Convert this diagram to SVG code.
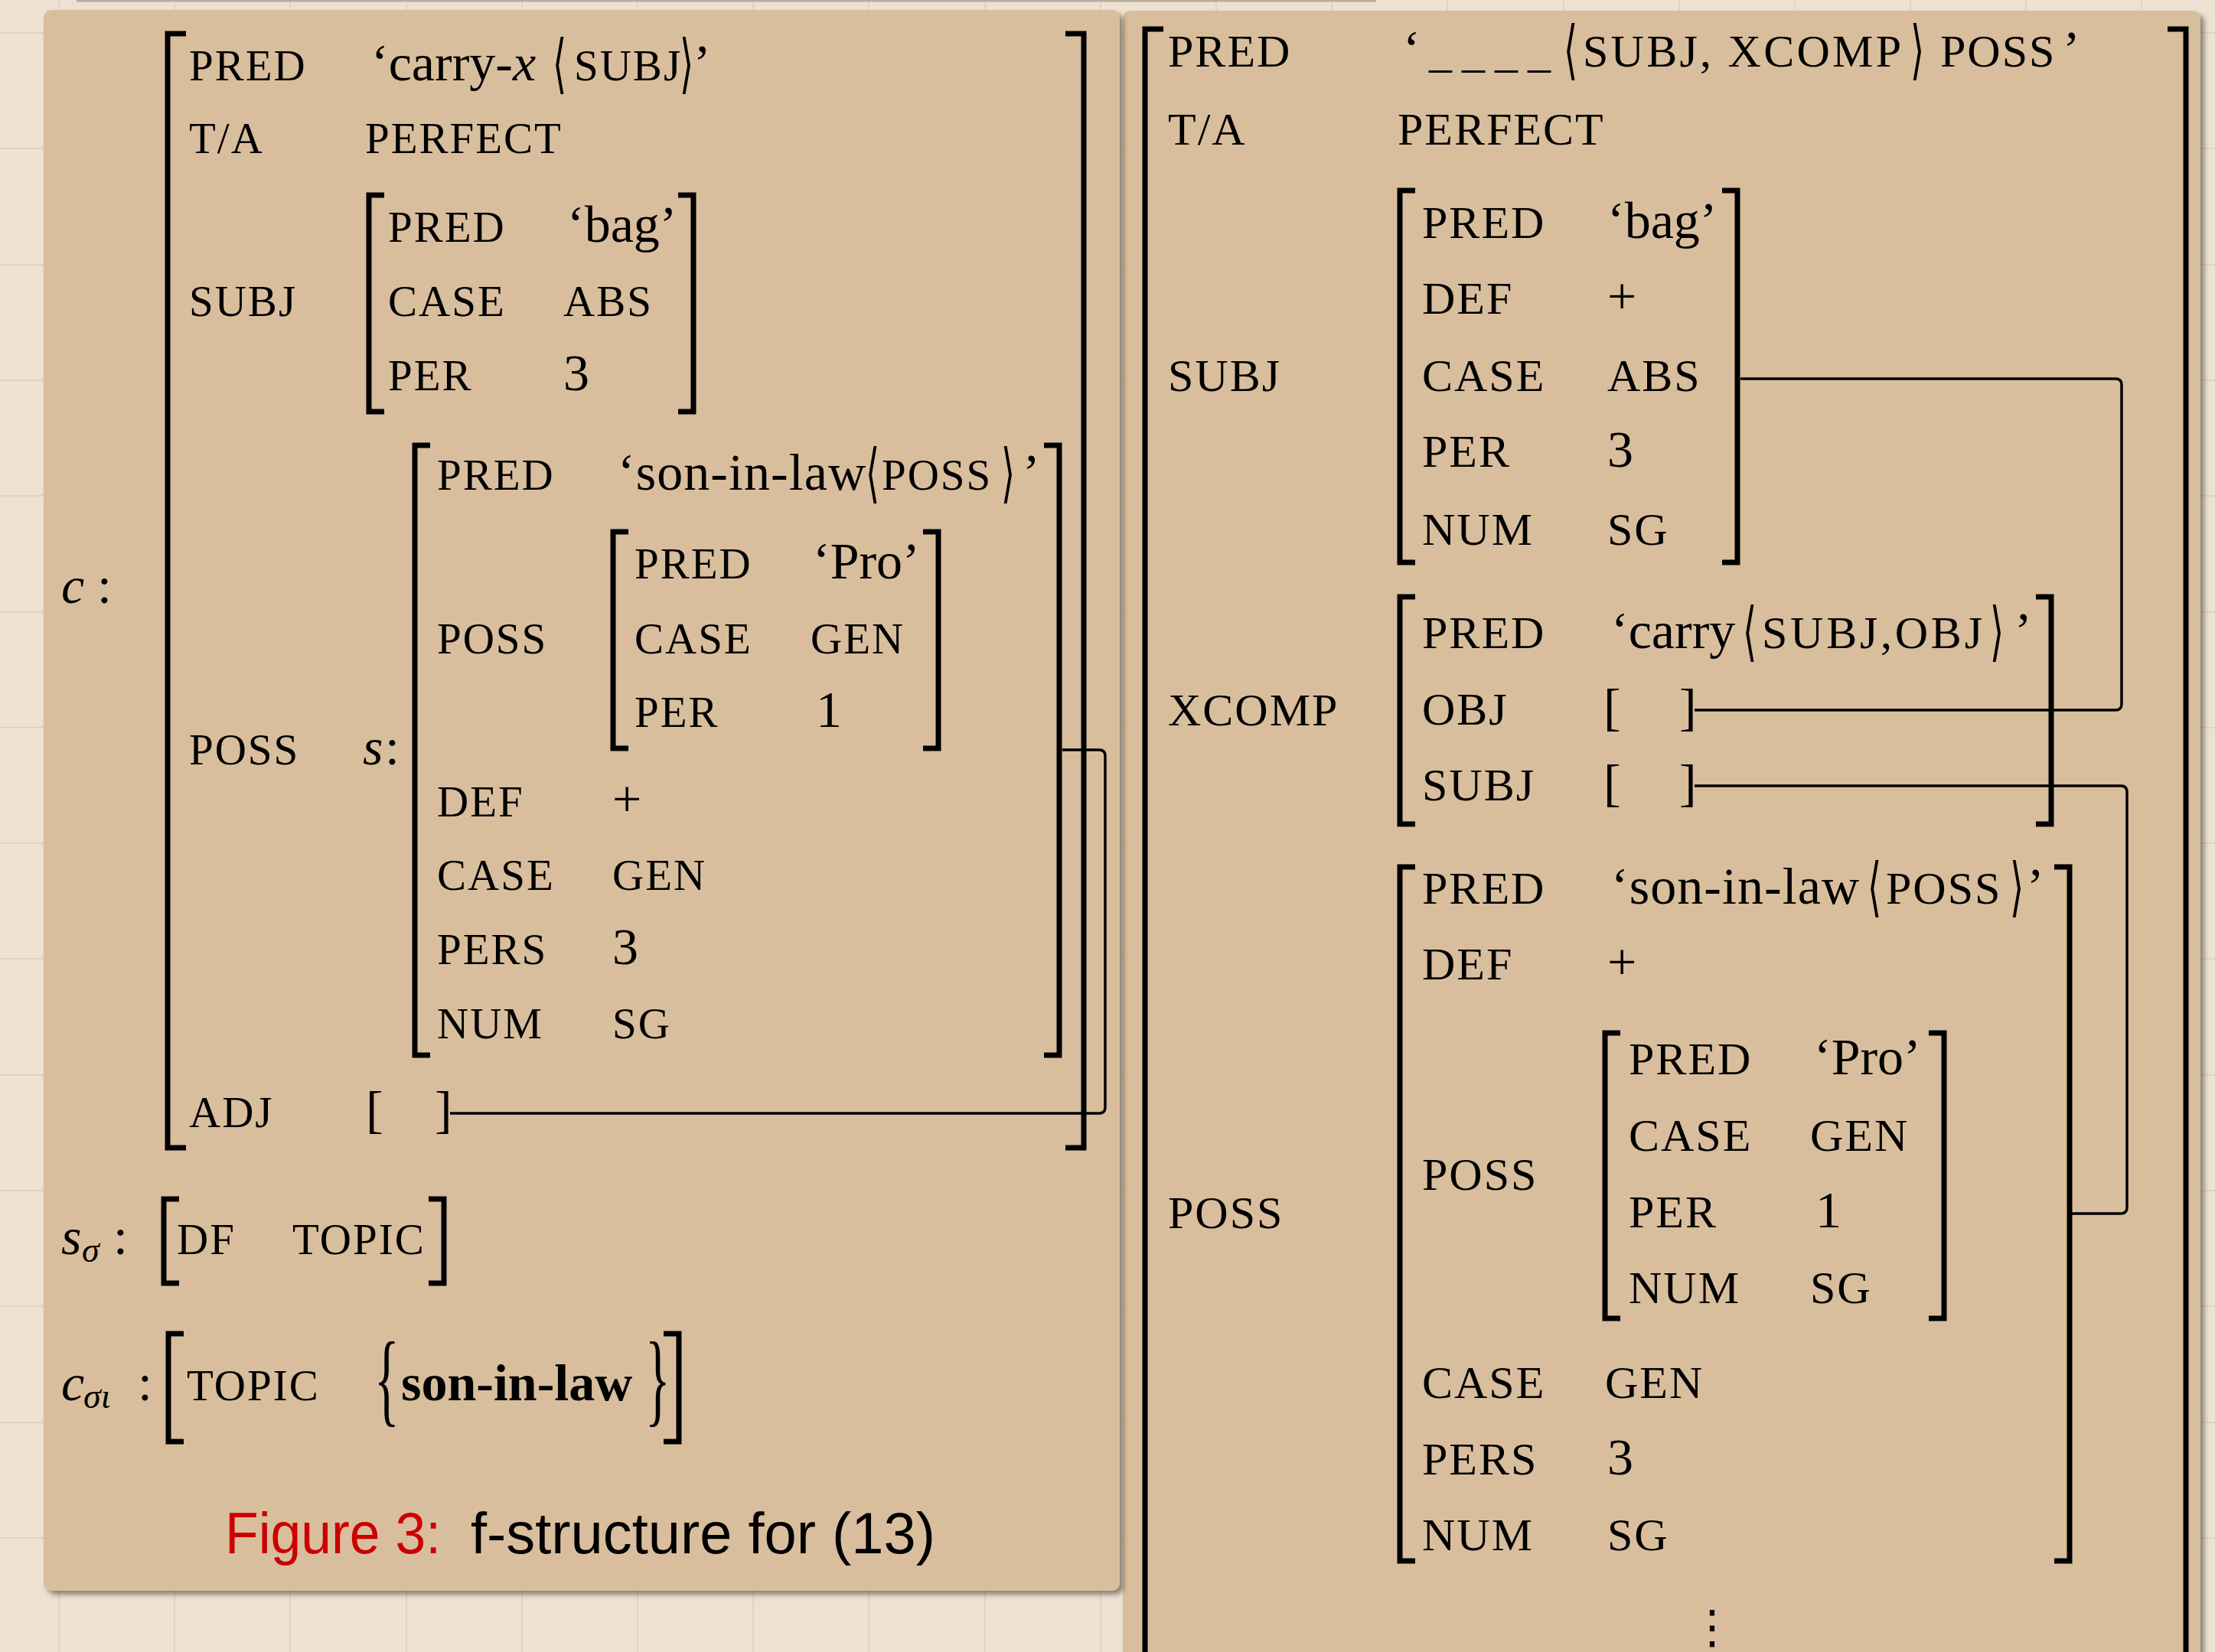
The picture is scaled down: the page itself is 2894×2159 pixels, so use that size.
<svg xmlns="http://www.w3.org/2000/svg" width="2894" height="2159" viewBox="0 0 2894 2159">
<defs>
<filter id="sh" x="-5%" y="-5%" width="110%" height="110%">
<feDropShadow dx="5" dy="5" stdDeviation="3" flood-color="#3c3428" flood-opacity="0.55"/>
</filter>
</defs>
<style>
.bg{fill:#EDE2D2}
.grid{stroke:#E0D2BF;stroke-width:2}
.panel{fill:#D9BE9D}
.br{fill:none;stroke:#000;stroke-width:7;stroke-linejoin:miter;stroke-linecap:butt}
.cn{fill:none;stroke:#000;stroke-width:3.5}
text{fill:#000}
.sc{font-family:'Liberation Serif','DejaVu Serif',serif;font-size:57px;letter-spacing:2px}
.sr{font-family:'Liberation Serif','DejaVu Serif',serif;font-size:60px;letter-spacing:2px}
.rm{font-family:'Liberation Serif','DejaVu Serif',serif;font-size:68px}
.it{font-family:'Liberation Serif','DejaVu Serif',serif;font-style:italic;font-size:68px}
.sub{font-family:'Liberation Serif','DejaVu Serif',serif;font-style:italic;font-size:46px}
.ang{font-family:'DejaVu Serif','DejaVu Sans',serif;font-size:62px;font-weight:normal}
.dots{font-family:'DejaVu Sans','DejaVu Serif',sans-serif;font-size:60px}
.bf{font-family:'Liberation Serif',serif;font-weight:bold;font-size:68px}
.cap{font-family:'Liberation Sans','DejaVu Sans',sans-serif;font-size:76px}
</style>
<rect class="bg" x="0" y="0" width="2894" height="2159"/>
<g id="grid">
<path class="grid" d="M77 0V2159M228 0V2159M379 0V2159M531 0V2159M682 0V2159M833 0V2159M984 0V2159M1135 0V2159M1287 0V2159M1438 0V2159M1589 0V2159M1740 0V2159M1891 0V2159M2043 0V2159M2194 0V2159M2345 0V2159M2496 0V2159M2647 0V2159M2798 0V2159"/>
<path class="grid" d="M0 43H2894M0 194H2894M0 346H2894M0 497H2894M0 648H2894M0 800H2894M0 951H2894M0 1102H2894M0 1253H2894M0 1405H2894M0 1556H2894M0 1707H2894M0 1859H2894M0 2010H2894"/>
</g>
<line x1="100" y1="1" x2="1798" y2="1" stroke="#B8AC9C" stroke-width="3"/>

<rect id="panel-right" class="panel" x="1467" y="14" width="1408" height="2220" rx="10" filter="url(#sh)"/>
<rect id="panel-left" class="panel" x="57" y="13" width="1406" height="2066" rx="10" filter="url(#sh)"/>

<!-- LEFT PANEL -->
<g id="f-c">
<path class="br" d="M243 44H219V1500H243"/>
<path class="br" d="M1392 44H1416V1500H1392"/>
<text class="it" x="80" y="788">c</text><text class="rm" x="127" y="788">:</text>
<text class="sc" x="247" y="105">PRED</text>
<text class="rm" x="485" y="105">‘carry-<tspan class="it">x</tspan></text>
<text class="ang" transform="translate(722 112) scale(0.75 1.36)">⟨</text>
<text class="sc" x="750" y="105">SUBJ</text>
<text class="ang" transform="translate(888 112) scale(0.75 1.36)">⟩</text>
<text class="rm" x="906" y="105">’</text>
<text class="sc" x="247" y="200">T/A</text>
<text class="sc" x="477" y="200">PERFECT</text>
<text class="sc" x="247" y="413">SUBJ</text>
<text class="sc" x="247" y="999">POSS</text>
<text class="it" x="474" y="999">s</text><text class="rm" x="503" y="999">:</text>
<text class="sc" x="247" y="1473">ADJ</text>
<text class="rm" x="478" y="1473">[</text>
<text class="rm" x="568" y="1473">]</text>
</g>
<g id="f-subj-left">
<path class="br" d="M502 255H482V538H502"/>
<path class="br" d="M886 255H906V538H886"/>
<text class="sc" x="507" y="316">PRED</text><text class="rm" x="741" y="316">‘bag’</text>
<text class="sc" x="507" y="413">CASE</text><text class="sc" x="736" y="413">ABS</text>
<text class="sc" x="507" y="510">PER</text><text class="rm" x="736" y="510">3</text>
</g>
<g id="f-s">
<path class="br" d="M562 582H542V1379H562"/>
<path class="br" d="M1364 582H1384V1379H1364"/>
<text class="sc" x="571" y="640">PRED</text>
<text class="rm" x="807" y="640" textLength="324" lengthAdjust="spacing">‘son-in-law</text>
<text class="ang" transform="translate(1131 647) scale(0.75 1.36)">⟨</text>
<text class="sc" x="1152" y="640">POSS</text>
<text class="ang" transform="translate(1308 647) scale(0.75 1.36)">⟩</text>
<text class="rm" x="1336" y="640">’</text>
<text class="sc" x="571" y="854">POSS</text>
<text class="sc" x="571" y="1067">DEF</text><text class="rm" x="800" y="1067">+</text>
<text class="sc" x="571" y="1163">CASE</text><text class="sc" x="800" y="1163">GEN</text>
<text class="sc" x="571" y="1260">PERS</text><text class="rm" x="800" y="1260">3</text>
<text class="sc" x="571" y="1357">NUM</text><text class="sc" x="800" y="1357">SG</text>
</g>
<g id="f-pro-left">
<path class="br" d="M821 695H801V978H821"/>
<path class="br" d="M1206 695H1226V978H1206"/>
<text class="sc" x="829" y="756">PRED</text><text class="rm" x="1062" y="756">‘Pro’</text>
<text class="sc" x="829" y="854">CASE</text><text class="sc" x="1059" y="854">GEN</text>
<text class="sc" x="829" y="950">PER</text><text class="rm" x="1066" y="950">1</text>
</g>
<g id="f-s-sigma">
<path class="br" d="M234 1567H214V1677H234"/>
<path class="br" d="M560 1567H580V1677H560"/>
<text class="it" x="80" y="1639">s</text><text class="sub" x="107" y="1649">σ</text><text class="rm" x="148" y="1639">:</text>
<text class="sc" x="231" y="1639">DF</text>
<text class="sc" x="382" y="1639">TOPIC</text>
</g>
<g id="f-c-sigma-iota">
<path class="br" d="M240 1743H220V1884H240"/>
<path class="br" d="M867 1743H887V1884H867"/>
<text class="it" x="80" y="1830">c</text><text class="sub" x="109" y="1840">σι</text><text class="rm" x="180" y="1830">:</text>
<text class="sc" x="244" y="1830">TOPIC</text>
<text class="rm" transform="translate(489 1813) scale(1 2)" x="0" y="17">{</text>
<text class="bf" x="524" y="1830">son-in-law</text>
<text class="rm" transform="translate(843 1813) scale(1 2)" x="0" y="17">}</text>
</g>
<g id="caption">
<text class="cap" x="294" y="2030" style="fill:#CC0000" textLength="282" lengthAdjust="spacingAndGlyphs">Figure 3:</text>
<text class="cap" x="615" y="2030" textLength="607" lengthAdjust="spacingAndGlyphs">f-structure for (13)</text>
</g>

<!-- RIGHT PANEL -->
<g id="f-main-right">
<path class="br" d="M1520 38H1496V2200"/>
<path class="br" d="M2832 38H2856V2200"/>
<text class="sr" x="1526" y="87">PRED</text>
<text class="rm" x="1833" y="87">‘</text>
<text class="rm" x="1867" y="87" style="font-size:60px;letter-spacing:13px">____</text>
<text class="ang" transform="translate(2043 94) scale(0.75 1.36)">⟨</text>
<text class="sr" x="2068" y="87" textLength="418" lengthAdjust="spacing">SUBJ, XCOMP</text>
<text class="ang" transform="translate(2496 94) scale(0.75 1.36)">⟩</text>
<text class="sr" x="2535" y="87">POSS</text>
<text class="rm" x="2695" y="87">’</text>
<text class="sr" x="1526" y="189">T/A</text>
<text class="sr" x="1826" y="189">PERFECT</text>
<text class="sr" x="1526" y="511">SUBJ</text>
<text class="sr" x="1526" y="948">XCOMP</text>
<text class="sr" x="1526" y="1605">POSS</text>
<text class="dots" x="2237" y="2147" text-anchor="middle">⋮</text>
</g>
<g id="f-subj-right">
<path class="br" d="M1849 249H1829V735H1849"/>
<path class="br" d="M2250 249H2270V735H2250"/>
<text class="sr" x="1858" y="311">PRED</text><text class="rm" x="2100" y="311">‘bag’</text>
<text class="sr" x="1858" y="410">DEF</text><text class="rm" x="2100" y="410">+</text>
<text class="sr" x="1858" y="511">CASE</text><text class="sr" x="2100" y="511">ABS</text>
<text class="sr" x="1858" y="610">PER</text><text class="rm" x="2100" y="610">3</text>
<text class="sr" x="1858" y="712">NUM</text><text class="sr" x="2100" y="712">SG</text>
</g>
<g id="f-xcomp">
<path class="br" d="M1849 780H1829V1077H1849"/>
<path class="br" d="M2660 780H2680V1077H2660"/>
<text class="sr" x="1858" y="847">PRED</text>
<text class="rm" x="2105" y="847">‘carry</text>
<text class="ang" transform="translate(2277 854) scale(0.75 1.36)">⟨</text>
<text class="sr" x="2302" y="847" textLength="290" lengthAdjust="spacing">SUBJ,OBJ</text>
<text class="ang" transform="translate(2600 854) scale(0.75 1.36)">⟩</text>
<text class="rm" x="2632" y="847">’</text>
<text class="sr" x="1858" y="947">OBJ</text><text class="rm" x="2095" y="947">[</text><text class="rm" x="2194" y="947">]</text>
<text class="sr" x="1858" y="1046">SUBJ</text><text class="rm" x="2095" y="1046">[</text><text class="rm" x="2194" y="1046">]</text>
</g>
<g id="f-poss-right">
<path class="br" d="M1849 1133H1829V2040H1849"/>
<path class="br" d="M2684 1133H2704V2040H2684"/>
<text class="sr" x="1858" y="1181">PRED</text>
<text class="rm" x="2105" y="1181" textLength="324" lengthAdjust="spacing">‘son-in-law</text>
<text class="ang" transform="translate(2440 1188) scale(0.75 1.36)">⟨</text>
<text class="sr" x="2464" y="1181">POSS</text>
<text class="ang" transform="translate(2626 1188) scale(0.75 1.36)">⟩</text>
<text class="rm" x="2648" y="1181">’</text>
<text class="sr" x="1858" y="1280">DEF</text><text class="rm" x="2100" y="1280">+</text>
<text class="sr" x="1858" y="1555">POSS</text>
<text class="sr" x="1858" y="1827">CASE</text><text class="sr" x="2097" y="1827">GEN</text>
<text class="sr" x="1858" y="1927">PERS</text><text class="rm" x="2100" y="1927">3</text>
<text class="sr" x="1858" y="2026">NUM</text><text class="sr" x="2100" y="2026">SG</text>
</g>
<g id="f-pro-right">
<path class="br" d="M2117 1350H2097V1723H2117"/>
<path class="br" d="M2520 1350H2540V1723H2520"/>
<text class="sr" x="2128" y="1404">PRED</text><text class="rm" x="2370" y="1404">‘Pro’</text>
<text class="sr" x="2128" y="1504">CASE</text><text class="sr" x="2365" y="1504">GEN</text>
<text class="sr" x="2128" y="1604">PER</text><text class="rm" x="2372" y="1604">1</text>
<text class="sr" x="2128" y="1703">NUM</text><text class="sr" x="2365" y="1703">SG</text>
</g>

<g id="connectors">
<path class="cn" d="M1388 980H1436Q1444 980 1444 988V1447Q1444 1455 1436 1455H588"/>
<path class="cn" d="M2274 495H2764Q2772 495 2772 503V920Q2772 928 2764 928H2214"/>
<path class="cn" d="M2214 1027H2771Q2779 1027 2779 1035V1578Q2779 1586 2771 1586H2706"/>
</g>
</svg>
